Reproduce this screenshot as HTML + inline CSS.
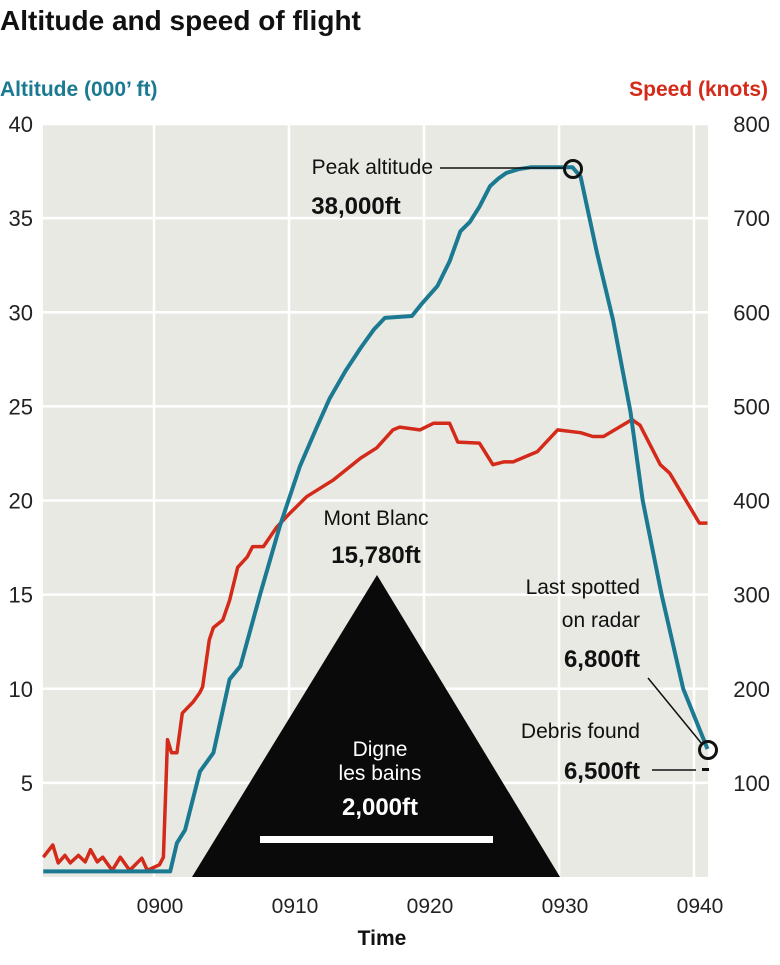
<!DOCTYPE html>
<html><head><meta charset="utf-8"><style>
body{margin:0;background:#fff;width:780px;height:960px;overflow:hidden;font-family:"Liberation Sans",sans-serif}
svg text{font-family:"Liberation Sans",sans-serif}
</style></head><body>
<svg id="chart" width="780" height="960">
<text x="0" y="30" font-size="28" font-weight="bold" fill="#111">Altitude and speed of flight</text>
<text x="0" y="96" font-size="21" font-weight="bold" fill="#1b7a91">Altitude (000’ ft)</text>
<text x="768" y="96" font-size="21" font-weight="bold" fill="#d42a1a" text-anchor="end">Speed (knots)</text>
<rect x="43" y="124" width="665" height="753" fill="#e9e9e4"/>
<g id="grid"></g><g id="axes"></g><g id="marks"></g>
<text x="382" y="945" font-size="21" font-weight="bold" text-anchor="middle" fill="#111">Time</text>
</svg>
<script>
const altTimes=[-8.2,1.2,1.7,2.3,3.4,4.4,5.6,6.4,7.9,9.3,10.8,12.0,13.0,14.2,15.3,16.3,17.1,19.1,19.9,21.0,21.9,22.7,23.4,24.1,24.9,25.5,26.1,27.0,27.9,31.0,31.6,32.8,34.0,35.3,36.2,37.6,39.2,41.0];
const altValues=[0.3,0.3,1.8,2.5,5.6,6.6,10.5,11.2,15.1,18.6,21.8,23.8,25.4,26.9,28.1,29.1,29.7,29.8,30.5,31.4,32.7,34.3,34.8,35.6,36.7,37.1,37.4,37.6,37.7,37.7,37.2,33.2,29.6,24.7,20.0,15.0,10.0,6.8];
const spdTimes=[-8.2,-7.5,-7.1,-6.6,-6.2,-5.6,-5.1,-4.7,-4.2,-3.8,-3.1,-2.5,-1.8,-0.9,-0.5,0.4,0.7,1.0,1.3,1.7,2.1,2.9,3.4,3.6,4.1,4.4,5.1,5.6,6.2,6.9,7.3,8.1,9.1,10.1,11.3,13.3,15.3,16.5,17.7,18.2,19.7,20.7,21.9,22.5,24.1,25.1,25.9,26.6,28.4,29.9,31.6,32.5,33.3,35.4,36.0,37.5,38.2,40.4,41.0];
const spdValues=[21,34,15,23,15,23,16,29,16,21,7,21,7,20,7,13,21,146,132,132,174,186,196,202,252,265,273,294,329,340,351,351,372,387,404,422,445,456,475,478,475,482,482,462,461,438,441,441,452,475,472,468,468,486,480,438,429,376,376];
const altTicks=[5,10,15,20,25,30,35,40];
const spdTicks=[100,200,300,400,500,600,700,800];
const timeTicks=[0,10,20,30,40];
const timeLabels=["0900","0910","0920","0930","0940"];
const X0=43,X1=708,Y0=877,Y1=124;
const x=m=>154+m*13.5;
const yA=v=>Y0-(v/40)*(Y0-Y1);
const yS=v=>Y0-(v/800)*(Y0-Y1);
const NS="http://www.w3.org/2000/svg";
function mk(tag,attrs,parent,txt){const e=document.createElementNS(NS,tag);for(const k in attrs)e.setAttribute(k,attrs[k]);if(txt!==undefined)e.textContent=txt;parent.appendChild(e);return e;}
const grid=document.getElementById('grid'),axes=document.getElementById('axes'),marks=document.getElementById('marks');
altTicks.forEach(t=>{const g=mk('line',{x1:X0,x2:X1,y1:yA(t),y2:yA(t),stroke:'#fff','stroke-width':2.5},grid);


const l=mk('text',{x:33,y:yA(t)+8,'font-size':22,'text-anchor':'end',fill:'#222'},axes,t);

});
spdTicks.forEach(t=>{const l=mk('text',{x:770,y:yS(t)+8,'font-size':22,'text-anchor':'end',fill:'#222'},axes,t);

});
timeTicks.forEach((t,i)=>{const g=mk('line',{x1:x(t),x2:x(t),y1:Y1,y2:Y0,stroke:'#fff','stroke-width':2.5},grid);


const l=mk('text',{x:x(t)+6,y:913,'font-size':21,'text-anchor':'middle',fill:'#222'},axes,timeLabels[i]);

});
function P(a,b,f){return a.map((t,i)=>x(t).toFixed(1)+','+f(b[i]).toFixed(1)).join(' ');}
const tri=mk('polygon',{points:'192,877 377,575 560,877',fill:'#0a0a0a'},marks);


const bar=mk('rect',{x:260,y:836,width:233,height:7,fill:'#fff'},marks);


const sp=mk('polyline',{points:P(spdTimes,spdValues,yS),fill:'none',stroke:'#d42a1a','stroke-width':3.5,'stroke-linejoin':'round'},marks);


const al=mk('polyline',{points:P(altTimes,altValues,yA),fill:'none',stroke:'#1b7a91','stroke-width':4,'stroke-linejoin':'round'},marks);


function T(xx,yy,s,txt,bold,anchor,col,name){const t=mk('text',{x:xx,y:yy,'font-size':s,'font-weight':bold?'bold':'normal','text-anchor':anchor||'middle',fill:col||'#111'},marks,txt);

}
T(433,174,21,'Peak altitude',false,'end','#111','peak-label');
T(356,214,24,'38,000ft',true,'middle','#111','peak-value');
T(376,525,21,'Mont Blanc',false,'middle','#111','mont-blanc-label');
T(376,563,24,'15,780ft',true,'middle','#111','mont-blanc-value');
T(380,756,21,'Digne',false,'middle','#fff','digne-label');
T(380,780,21,'les bains',false,'middle','#fff','digne-label-2');
T(380,815,24,'2,000ft',true,'middle','#fff','digne-value');
T(640,594,21,'Last spotted',false,'end','#111','radar-label');
T(640,627,21,'on radar',false,'end','#111','radar-label-2');
T(640,667,24,'6,800ft',true,'end','#111','radar-value');
T(640,738,21,'Debris found',false,'end','#111','debris-label');
T(640,779,24,'6,500ft',true,'end','#111','debris-value');
function L(a,b,c,d,name){const l=mk('line',{x1:a,y1:b,x2:c,y2:d,stroke:'#111','stroke-width':1.5},marks);

}
L(440,168,566,168,'peak-leader');
L(648,678,702,744,'radar-leader');
L(652,770,696,770,'debris-leader');
const dash=mk('rect',{x:702,y:768,width:7,height:3,fill:'#111'},marks);


const c1=mk('circle',{cx:573,cy:169,r:8.5,fill:'none',stroke:'#111','stroke-width':3},marks);


const c2=mk('circle',{cx:708,cy:750,r:8.5,fill:'none',stroke:'#111','stroke-width':3},marks);


</script>
</body></html>
